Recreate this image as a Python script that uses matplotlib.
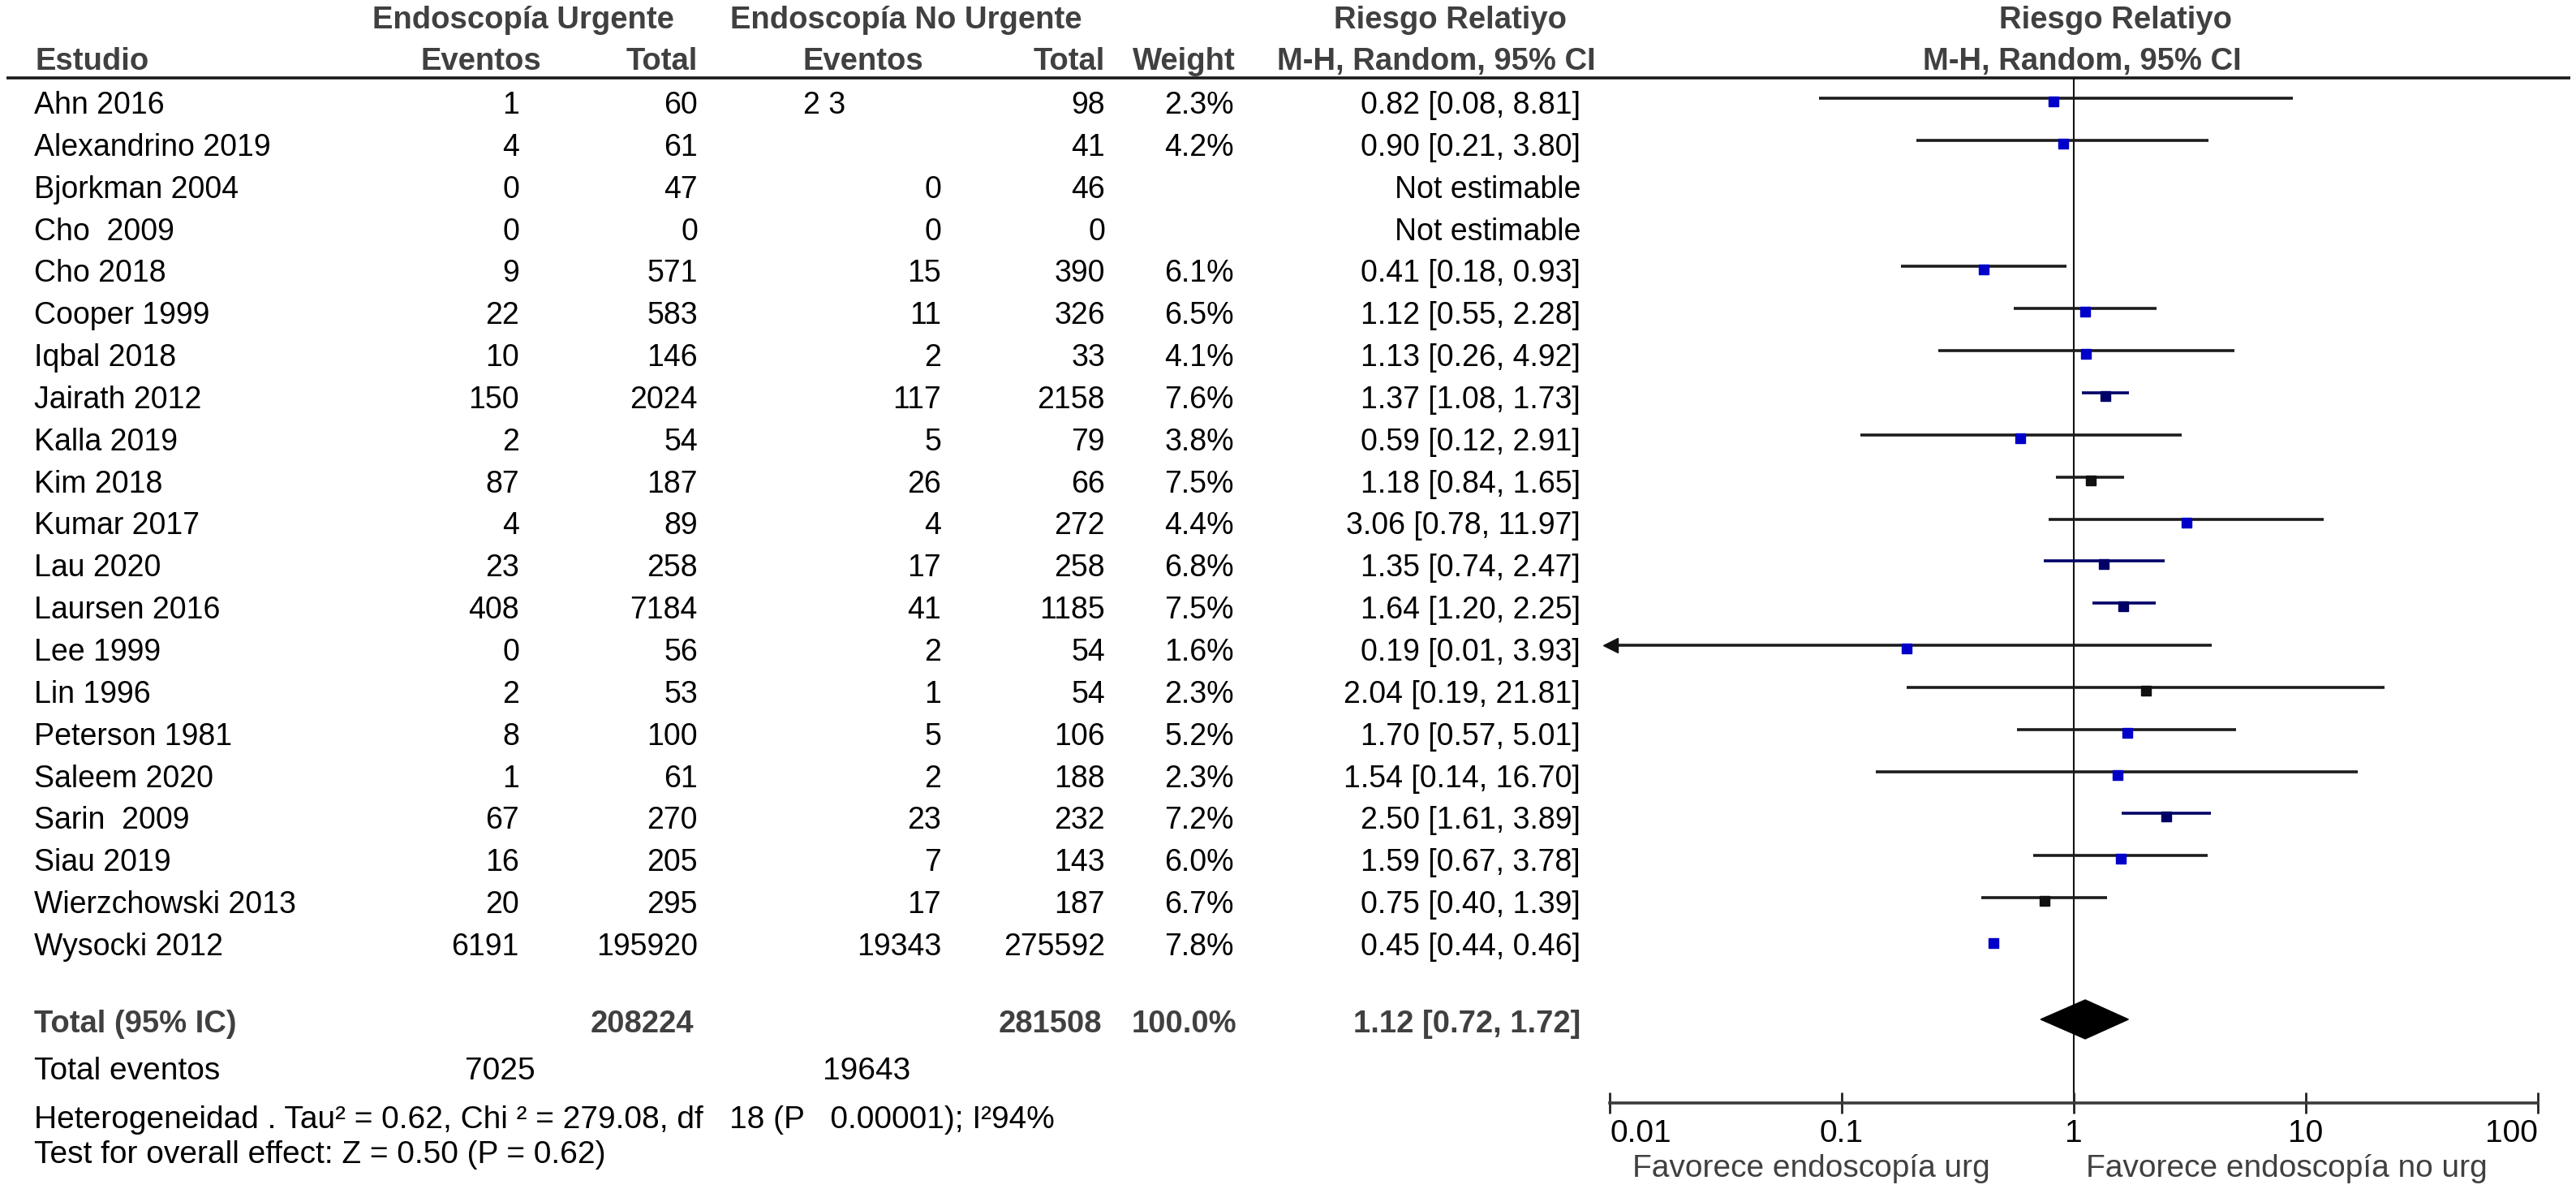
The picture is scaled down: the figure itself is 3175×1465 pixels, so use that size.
import numpy as np
import matplotlib
matplotlib.use('Agg')
import matplotlib.pyplot as plt

plt.rcParams['font.family'] = ['Liberation Sans', 'DejaVu Sans']

# datos de los estudios
estudios = ['Ahn 2016', 'Alexandrino 2019', 'Bjorkman 2004', 'Cho  2009', 'Cho 2018',
            'Cooper 1999', 'Iqbal 2018', 'Jairath 2012', 'Kalla 2019', 'Kim 2018',
            'Kumar 2017', 'Lau 2020', 'Laursen 2016', 'Lee 1999', 'Lin 1996',
            'Peterson 1981', 'Saleem 2020', 'Sarin  2009', 'Siau 2019',
            'Wierzchowski 2013', 'Wysocki 2012']
ev_urg = [1, 4, 0, 0, 9, 22, 10, 150, 2, 87, 4, 23, 408, 0, 2, 8, 1, 67, 16, 20, 6191]
tot_urg = [60, 61, 47, 0, 571, 583, 146, 2024, 54, 187, 89, 258, 7184, 56, 53, 100,
           61, 270, 205, 295, 195920]
ev_no = ['2 3', '', '0', '0', '15', '11', '2', '117', '5', '26', '4', '17', '41', '2',
         '1', '5', '2', '23', '7', '17', '19343']
tot_no = [98, 41, 46, 0, 390, 326, 33, 2158, 79, 66, 272, 258, 1185, 54, 54, 106,
          188, 232, 143, 187, 275592]
peso = ['2.3%', '4.2%', '', '', '6.1%', '6.5%', '4.1%', '7.6%', '3.8%', '7.5%', '4.4%',
        '6.8%', '7.5%', '1.6%', '2.3%', '5.2%', '2.3%', '7.2%', '6.0%', '6.7%', '7.8%']
rr = [0.82, 0.90, np.nan, np.nan, 0.41, 1.12, 1.13, 1.37, 0.59, 1.18, 3.06, 1.35, 1.64,
      0.19, 2.04, 1.70, 1.54, 2.50, 1.59, 0.75, 0.45]
ci_lo = [0.08, 0.21, np.nan, np.nan, 0.18, 0.55, 0.26, 1.08, 0.12, 0.84, 0.78, 0.74,
         1.20, 0.01, 0.19, 0.57, 0.14, 1.61, 0.67, 0.40, 0.44]
ci_hi = [8.81, 3.80, np.nan, np.nan, 0.93, 2.28, 4.92, 1.73, 2.91, 1.65, 11.97, 2.47,
         2.25, 3.93, 21.81, 5.01, 16.70, 3.89, 3.78, 1.39, 0.46]
# colores de cuadrado / linea
col_sq = ['#0000c8'] * 21
col_ln = ['#1c1c1c'] * 21
for i in [7, 11, 12, 17]:
    col_sq[i] = '#000066'
    col_ln[i] = '#000066'
for i in [9, 14, 19]:
    col_sq[i] = '#111111'

total_rr, total_lo, total_hi = 1.12, 0.72, 1.72
total_urg, total_no = 208224, 281508
total_ev_urg, total_ev_no = 7025, 19643

W, H = 3175, 1465
fig = plt.figure(figsize=(W / 100, H / 100), dpi=100)
ax = fig.add_axes([0, 0, 1, 1])
ax.set_xlim(0, W)
ax.set_ylim(H, 0)
ax.axis('off')

fs = 27      # texto de filas
fs2 = 28     # pie y eje
fsb = 27.5   # negritas
gris = '#404040'

# encabezados
ax.text(645, 35, 'Endoscopía Urgente', ha='center', fontsize=fsb, weight='bold', color=gris)
ax.text(1117, 35, 'Endoscopía No Urgente', ha='center', fontsize=fsb, weight='bold', color=gris)
ax.text(1788, 35, 'Riesgo Relatiyo', ha='center', fontsize=fsb, weight='bold', color=gris)
ax.text(2608, 35, 'Riesgo Relatiyo', ha='center', fontsize=fsb, weight='bold', color=gris)
ax.text(43, 86, 'Estudio', ha='left', fontsize=fsb, weight='bold', color=gris)
ax.text(667, 86, 'Eventos', ha='right', fontsize=fsb, weight='bold', color=gris)
ax.text(860, 86, 'Total', ha='right', fontsize=fsb, weight='bold', color=gris)
ax.text(990, 86, 'Eventos', ha='left', fontsize=fsb, weight='bold', color=gris)
ax.text(1362, 86, 'Total', ha='right', fontsize=fsb, weight='bold', color=gris)
ax.text(1523, 86, 'Weight', ha='right', fontsize=fsb, weight='bold', color=gris)
ax.text(1967, 86, 'M-H, Random, 95% CI', ha='right', fontsize=fsb, weight='bold', color=gris)
ax.text(2566, 86, 'M-H, Random, 95% CI', ha='center', fontsize=fsb, weight='bold', color=gris)
ax.plot([8, 3168], [96, 96], color='#1a1a1a', lw=2.6, solid_capstyle='butt')

# filas
paso = 51.85
for i, nombre in enumerate(estudios):
    yb = 140 + paso * i
    ax.text(42, yb, nombre, fontsize=fs)
    ax.text(640, yb, str(ev_urg[i]), ha='right', fontsize=fs)
    ax.text(860, yb, str(tot_urg[i]), ha='right', fontsize=fs)
    if ev_no[i] == '2 3':
        ax.text(990, yb, ev_no[i], ha='left', fontsize=fs)
    else:
        ax.text(1160, yb, ev_no[i], ha='right', fontsize=fs)
    ax.text(1362, yb, str(tot_no[i]), ha='right', fontsize=fs)
    ax.text(1521, yb, peso[i], ha='right', fontsize=fs)
    if np.isnan(rr[i]):
        etiqueta = 'Not estimable'
    else:
        etiqueta = '%.2f [%.2f, %.2f]' % (rr[i], ci_lo[i], ci_hi[i])
    ax.text(1948, yb, etiqueta, ha='right', fontsize=fs)

# totales
ax.text(42, 1272, 'Total (95% IC)', fontsize=fsb, weight='bold', color=gris)
ax.text(855, 1272, str(total_urg), ha='right', fontsize=fsb, weight='bold', color=gris)
ax.text(1358, 1272, str(total_no), ha='right', fontsize=fsb, weight='bold', color=gris)
ax.text(1524, 1272, '100.0%', ha='right', fontsize=fsb, weight='bold', color=gris)
ax.text(1948, 1272, '%.2f [%.2f, %.2f]' % (total_rr, total_lo, total_hi), ha='right',
        fontsize=fsb, weight='bold', color=gris)
ax.text(42, 1330, 'Total eventos', fontsize=fs2)
ax.text(660, 1330, str(total_ev_urg), ha='right', fontsize=fs2)
ax.text(1122, 1330, str(total_ev_no), ha='right', fontsize=fs2)
ax.text(42, 1390, 'Heterogeneidad . Tau² = 0.62, Chi ² = 279.08, df   18 (P   0.00001); I²94%',
        fontsize=fs2)
ax.text(42, 1433, 'Test for overall effect: Z = 0.50 (P = 0.62)', fontsize=fs2)

# forest plot
x0, x1 = 1984, 3128
yt, yb_ax = 96, 1359
fx = fig.add_axes([x0 / W, 1 - yb_ax / H, (x1 - x0) / W, (yb_ax - yt) / H])
fx.set_xscale('log')
fx.set_xlim(0.01, 100)
fx.set_ylim(yb_ax, yt)
fx.patch.set_alpha(0)
for s in ['top', 'left', 'right']:
    fx.spines[s].set_visible(False)
fx.spines['bottom'].set_linewidth(2.6)
fx.spines['bottom'].set_color('#3a3a3a')
fx.set_yticks([])
fx.set_xticks([0.01, 0.1, 1, 10, 100])
fx.set_xticklabels(['0.01', '0.1', '1', '10', '100'])
fx.minorticks_off()
fx.tick_params(axis='x', direction='inout', length=19, width=2, color='#222222',
               labelsize=fs2, pad=5)
lbls = fx.get_xticklabels()
lbls[0].set_ha('left')
lbls[-1].set_ha('right')

fx.axvline(1, color='#111111', lw=1.5, zorder=1)

for i in range(len(estudios)):
    if np.isnan(rr[i]):
        continue
    yl = 140 + paso * i - 19
    lo = max(ci_lo[i], 0.0101)
    fx.plot([lo, ci_hi[i]], [yl, yl], color=col_ln[i], lw=2.6, solid_capstyle='butt',
            zorder=2)
    if ci_lo[i] < 0.0101:
        fx.plot([0.0101], [yl], marker='<', color='#111111', markersize=13, clip_on=False,
                zorder=3)
    fx.plot([rr[i]], [yl + 4], marker='s', color=col_sq[i], markersize=8, zorder=3)

yd = 1256
fx.fill([total_lo, total_rr, total_hi, total_rr], [yd, yd - 24, yd, yd + 24],
        color='black', zorder=3)

ax.text(2453, 1450, 'Favorece endoscopía urg', ha='right', fontsize=fs2, color=gris)
ax.text(2571, 1450, 'Favorece endoscopía no urg', ha='left', fontsize=fs2, color=gris)

fig.savefig('out.png', dpi=100)
